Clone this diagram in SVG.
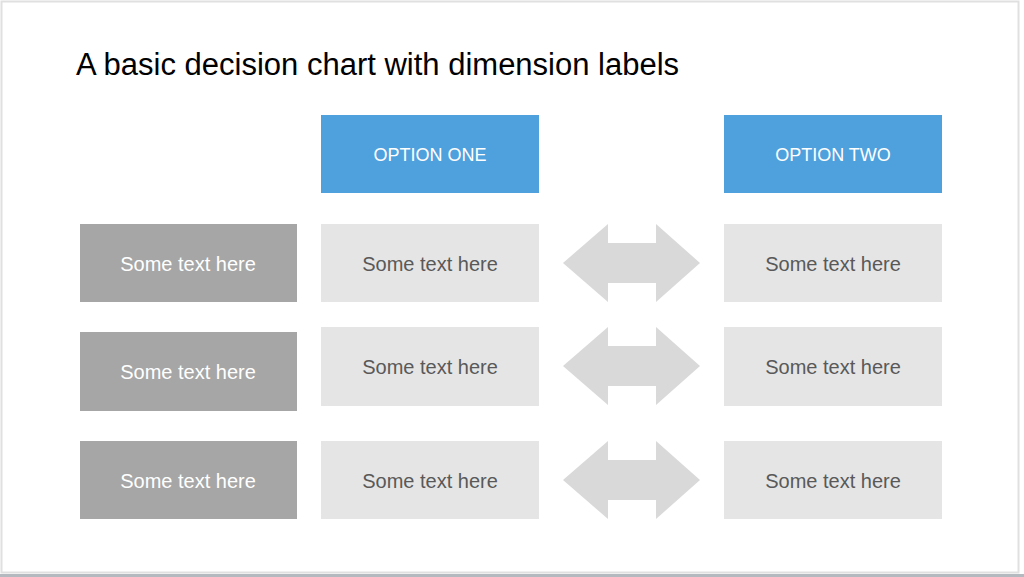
<svg xmlns="http://www.w3.org/2000/svg" width="1024" height="577" viewBox="0 0 1024 577">
<style>
text{font-family:"Liberation Sans",Arial,sans-serif;text-anchor:middle;dominant-baseline:central}
.lab{fill:#a6a6a6}.lt{fill:#fff;font-size:20px}
.cell{fill:#e5e5e5}.ct{fill:#595959;font-size:20px}
.hd{fill:#4ea1dc}.ht{fill:#fff;font-size:18px}
.arr{fill:#d9d9d9}
</style>
<rect x="0" y="0" width="1024" height="577" fill="#fff"/>
<rect x="1.5" y="1.5" width="1017" height="571" fill="none" stroke="#e0e0e0" stroke-width="2"/>
<rect x="0" y="574" width="1024" height="3" fill="#b4b8bf"/>
<text x="76" y="64" style="text-anchor:start;font-size:31px;fill:#000">A basic decision chart with dimension labels</text>
<g id="h1"><rect class="hd" x="321" y="115" width="218" height="78"/><text class="ht" x="430" y="155">OPTION ONE</text></g>
<g id="h2"><rect class="hd" x="724" y="115" width="218" height="78"/><text class="ht" x="833" y="155">OPTION TWO</text></g>
<g id="l1"><rect class="lab" x="80" y="224" width="217" height="78"/><text class="lt" x="188" y="264">Some text here</text></g>
<g id="l2"><rect class="lab" x="80" y="332" width="217" height="79"/><text class="lt" x="188" y="372">Some text here</text></g>
<g id="l3"><rect class="lab" x="80" y="441" width="217" height="78"/><text class="lt" x="188" y="481">Some text here</text></g>
<g id="a1"><rect class="cell" x="321" y="224" width="218" height="78"/><text class="ct" x="430" y="264">Some text here</text></g>
<g id="a2"><rect class="cell" x="321" y="327" width="218" height="79"/><text class="ct" x="430" y="367">Some text here</text></g>
<g id="a3"><rect class="cell" x="321" y="441" width="218" height="78"/><text class="ct" x="430" y="481">Some text here</text></g>
<g id="b1"><rect class="cell" x="724" y="224" width="218" height="78"/><text class="ct" x="833" y="264">Some text here</text></g>
<g id="b2"><rect class="cell" x="724" y="327" width="218" height="79"/><text class="ct" x="833" y="367">Some text here</text></g>
<g id="b3"><rect class="cell" x="724" y="441" width="218" height="78"/><text class="ct" x="833" y="481">Some text here</text></g>
<g id="connectors">
<path class="arr" d="M563,263 L608,224 L608,243 L656,243 L656,224 L700,263 L656,302 L656,283 L608,283 L608,302 Z"/>
<path class="arr" d="M563,366 L608,327 L608,346 L656,346 L656,327 L700,366 L656,405 L656,386 L608,386 L608,405 Z"/>
<path class="arr" d="M563,480 L608,441 L608,460 L656,460 L656,441 L700,480 L656,519 L656,500 L608,500 L608,519 Z"/>
</g>
</svg>
